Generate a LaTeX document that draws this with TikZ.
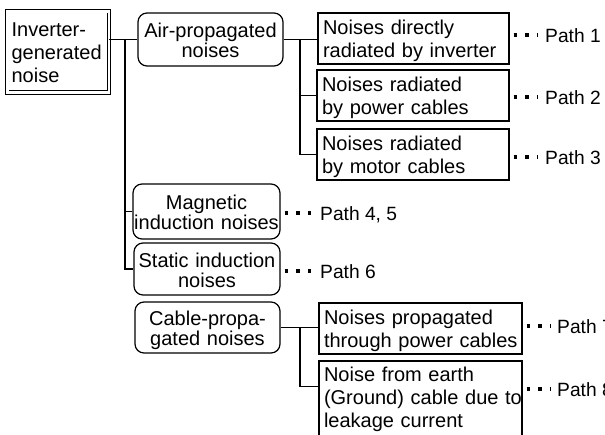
\documentclass[tikz,border=0pt]{standalone}
\usepackage{fontspec}
\setmainfont{Liberation Sans}
\begin{document}
\begin{tikzpicture}[x=1pt,y=-1pt,
  every node/.style={font=\fontsize{20}{23}\selectfont, inner ysep=0pt},
  sq/.style={draw, line width=1.2pt, minimum height=51pt, inner xsep=5pt, align=left,
             text height=15pt, text depth=23pt},
  rnd/.style={draw, line width=1.2pt, rounded corners=9pt, align=center, inner sep=0pt,
              font=\fontsize{20}{20}\selectfont, text height=16pt, text depth=20pt},
  conn/.style={line width=1.8pt},
  dotline/.style={line width=3.4pt, dash pattern=on 3.4pt off 8.2pt, shorten <=4pt, shorten >=7pt},
  lab/.style={anchor=west, inner sep=0pt, font=\fontsize{19.2}{23}\selectfont,
              text height=14pt, text depth=0pt}
]
\useasboundingbox (0,0) rectangle (605,434);
\fill[white] (0,0) rectangle (605,434);
\clip (0,0) rectangle (605,434);

% root
\node[draw, double, double distance=2.4pt, line width=0.9pt, minimum width=101.5pt,
      minimum height=81.1pt, align=left, text width=93pt, inner sep=0pt,
      text height=15pt, text depth=46pt] (root) at (58.1,51.85) {Inverter-\\generated\\noise};

% second level
\node[rnd, minimum width=145pt, minimum height=53pt, text width=145pt] (air) at (210.5,39.5)
  {\mbox{Air-propagated}\\noises};
\node[rnd, minimum width=147pt, minimum height=55pt, text width=147pt] (mag) at (206.5,211.5)
  {Magnetic\\\mbox{induction noises}};
\node[rnd, minimum width=146pt, minimum height=52pt, text width=146pt] (static) at (207,269)
  {\mbox{Static induction}\\noises};
\node[rnd, minimum width=145pt, minimum height=51pt, text width=145pt] (cable) at (207.5,327.5)
  {\mbox{Cable-propa-}\\\mbox{gated noises}};

% third level
\node[sq, minimum width=191pt, text width=181pt] (b1) at (413.5,38.5)
  {\mbox{Noises directly}\\\mbox{radiated by inverter}};
\node[sq, minimum width=192pt, text width=182pt] (b2) at (413,95.5)
  {\mbox{Noises radiated}\\\mbox{by power cables}};
\node[sq, minimum width=192pt, text width=182pt] (b3) at (413,154.5)
  {\mbox{Noises radiated}\\\mbox{by motor cables}};
\node[sq, minimum width=203pt, text width=193pt] (b7) at (420.5,328.5)
  {\mbox{Noises propagated}\\\mbox{through power cables}};
\node[sq, minimum width=203pt, minimum height=84pt, text width=193pt, text depth=57.6pt] (b8) at (420.5,403)
  {\mbox{Noise from earth}\\\mbox{(Ground) cable due to}\\\mbox{leakage current}};

% path labels
\node[lab] (p1) at (545,35) {Path 1};
\node[lab] (p2) at (545,97) {Path 2};
\node[lab] (p3) at (545,157) {Path 3};
\node[lab] (p45) at (320,213) {Path 4, 5};
\node[lab] (p6) at (320,271) {Path 6};
\node[lab] (p7) at (557,326) {Path 7};
\node[lab] (p8) at (557,389) {Path 8};

% branch coordinates
\coordinate (t1) at (125,0);
\coordinate (t2) at (300,0);
\coordinate (b8c) at ([yshift=-26pt]b8.north west);

% connectors
\draw[conn] (root.east |- air.west) -- (air.west);
\draw[conn] (t1 |- air.west) -- (t1 |- static.west) -- (static.west);
\draw[conn] (t1 |- mag.west) -- (mag.west);
\draw[conn] (air.east) -- (air.east -| b1.west);
\draw[conn] (t2 |- air.east) |- (b3.west);
\draw[conn] (t2 |- b2.west) -- (b2.west);
\draw[conn] (cable.east) -- (cable.east -| b7.west);
\draw[conn] (t2 |- cable.east) |- (b8c);

% dotted leaders
\draw[dotline] (b1.east |- p1.west) -- (p1.west);
\draw[dotline] (b2.east |- p2.west) -- (p2.west);
\draw[dotline] (b3.east |- p3.west) -- (p3.west);
\draw[dotline] (mag.east |- p45.west) -- (p45.west);
\draw[dotline] (static.east |- p6.west) -- (p6.west);
\draw[dotline] (b7.east |- p7.west) -- (p7.west);
\draw[dotline] (b8.east |- p8.west) -- (p8.west);
\end{tikzpicture}
\end{document}
